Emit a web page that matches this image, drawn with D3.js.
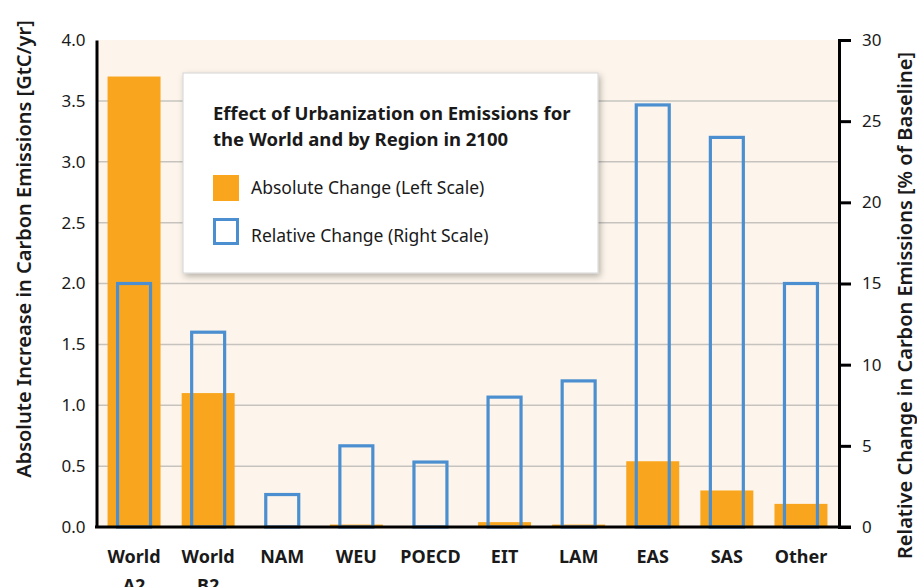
<!DOCTYPE html>
<meta charset="utf-8">
<style>
  body { margin: 0; background: white; }
  svg { display: block; }
  text { font-family: "Noto Sans", "Open Sans", sans-serif; fill: #1a1a1a; }
  .tick text { font-size: 17px; }
  .cat { font-size: 18px; font-weight: bold; }
  .axtitle { font-size: 20px; font-weight: 600; }
</style>
<body>
<div id="chart"></div>
<script src="https://cdn.jsdelivr.net/npm/d3@7/dist/d3.min.js"></script>
<script>
  // data
  var categories = ["World A2", "World B2", "NAM", "WEU", "POECD", "EIT", "LAM", "EAS", "SAS", "Other"];
  var absChange = [3.7, 1.1, 0, 0.02, 0, 0.04, 0.02, 0.54, 0.3, 0.19];   // GtC/yr, left scale
  var relChange = [15, 12, 2, 5, 4, 8, 9, 26, 24, 15];                  // % of baseline, right scale
  var leftTicks = [0, 0.5, 1, 1.5, 2, 2.5, 3, 3.5, 4];
  var rightTicks = [0, 5, 10, 15, 20, 25, 30];

  var W = 917, H = 587;
  var x0 = 97, x1 = 838, yTop = 40, yBot = 527;

  var svg = d3.select("#chart").append("svg")
      .attr("width", W)
      .attr("height", H);

  var x = d3.scaleBand().domain(categories).range([x0, x1]);
  var yL = d3.scaleLinear().domain([0, 4]).range([yBot, yTop]);
  var yR = d3.scaleLinear().domain([0, 30]).range([yBot, yTop]);

  var defs = svg.append("defs");
  var f = defs.append("filter").attr("id", "shadow")
      .attr("x", "-10%").attr("y", "-10%").attr("width", "125%").attr("height", "130%");
  f.append("feDropShadow").attr("dx", 2).attr("dy", 3).attr("stdDeviation", 3)
      .attr("flood-color", "#000").attr("flood-opacity", 0.28);

  // plot background
  svg.append("rect")
      .attr("x", x0).attr("y", yTop)
      .attr("width", x1 - x0).attr("height", yBot - yTop + 2)
      .attr("fill", "#fdf5eb");

  // gridlines
  svg.append("g").selectAll("line")
      .data(leftTicks.filter(function(d){ return d > 0 && d < 4; }))
      .enter().append("line")
      .attr("x1", x0).attr("x2", x1)
      .attr("y1", function(d){ return yL(d); })
      .attr("y2", function(d){ return yL(d); })
      .attr("stroke", "#c6c3bf").attr("stroke-width", 1.5);

  // absolute change bars (orange)
  var bw = x.bandwidth() * 0.715;
  svg.append("g").selectAll("rect")
      .data(categories)
      .enter().append("rect")
      .attr("x", function(d){ return x(d) + (x.bandwidth() - bw) / 2; })
      .attr("y", function(d, i){ return yL(absChange[i]); })
      .attr("width", bw)
      .attr("height", function(d, i){ return yBot - yL(absChange[i]); })
      .attr("fill", "#f9a61e");

  // relative change bars (blue outline)
  var ow = x.bandwidth() * 0.445;
  svg.append("g").selectAll("rect")
      .data(categories)
      .enter().append("rect")
      .attr("x", function(d){ return x(d) + (x.bandwidth() - ow) / 2; })
      .attr("y", function(d, i){ return yR(relChange[i]); })
      .attr("width", ow)
      .attr("height", function(d, i){ return yBot - yR(relChange[i]); })
      .attr("fill", "none")
      .attr("stroke", "#4b8fd1")
      .attr("stroke-width", 3.2);

  // left axis
  var gl = svg.append("g")
      .attr("transform", "translate(" + (x0 - 0.5) + ",0)")
      .call(d3.axisLeft(yL).tickValues(leftTicks).tickFormat(d3.format(".1f")).tickSize(0).tickPadding(11));
  gl.select(".domain").attr("stroke", "#000").attr("stroke-width", 3);
  gl.selectAll(".tick text").attr("fill", "#1a1a1a");

  // right axis
  var gr = svg.append("g")
      .attr("transform", "translate(" + (x1 + 1) + ",0)")
      .call(d3.axisRight(yR).tickValues(rightTicks).tickSize(12).tickPadding(11));
  gr.select(".domain").attr("stroke", "#000").attr("stroke-width", 3);
  gr.selectAll(".tick line").attr("stroke", "#000").attr("stroke-width", 3);
  gr.selectAll(".tick text").attr("fill", "#1a1a1a");

  // baseline
  svg.append("line")
      .attr("x1", x0 - 2).attr("x2", x1 + 13)
      .attr("y1", yBot).attr("y2", yBot)
      .attr("stroke", "#000").attr("stroke-width", 3);

  // category labels
  var cat = svg.append("g").selectAll("text")
      .data(categories)
      .enter().append("text")
      .attr("class", "cat")
      .attr("text-anchor", "middle")
      .attr("x", function(d){ return x(d) + x.bandwidth() / 2; })
      .attr("y", 563);
  cat.each(function(d){
    var parts = d.split(" ");
    var t = d3.select(this);
    parts.forEach(function(p, i){
      t.append("tspan")
        .attr("x", x(d) + x.bandwidth() / 2)
        .attr("dy", i == 0 ? 0 : 29)
        .text(p);
    });
  });

  // axis titles
  svg.append("text")
      .attr("class", "axtitle")
      .attr("text-anchor", "middle")
      .attr("transform", "translate(31," + ((18 + 480) / 2) + ") rotate(-90)")
      .text("Absolute Increase in Carbon Emissions [GtC/yr]");

  svg.append("text")
      .attr("class", "axtitle")
      .attr("text-anchor", "middle")
      .attr("transform", "translate(912," + ((36 + 575) / 2) + ") rotate(-90)")
      .text("Relative Change in Carbon Emissions [% of Baseline]");

  // legend box
  var lg = svg.append("g");
  lg.append("rect")
      .attr("x", 183).attr("y", 73)
      .attr("width", 415).attr("height", 200)
      .attr("fill", "white")
      .attr("stroke", "#d4d4d4").attr("stroke-width", 1)
      .attr("filter", "url(#shadow)");

  lg.append("text")
      .attr("x", 213).attr("y", 120)
      .style("font-size", "18.5px").style("font-weight", "bold")
      .text("Effect of Urbanization on Emissions for");
  lg.append("text")
      .attr("x", 213).attr("y", 146)
      .style("font-size", "18.5px").style("font-weight", "bold")
      .text("the World and by Region in 2100");

  lg.append("rect")
      .attr("x", 213).attr("y", 175)
      .attr("width", 26).attr("height", 26)
      .attr("fill", "#f9a61e");
  lg.append("text")
      .attr("x", 251).attr("y", 194)
      .style("font-size", "17.5px")
      .text("Absolute Change (Left Scale)");

  lg.append("rect")
      .attr("x", 214.5).attr("y", 219.5)
      .attr("width", 23).attr("height", 24)
      .attr("fill", "white")
      .attr("stroke", "#4b8fd1").attr("stroke-width", 3);
  lg.append("text")
      .attr("x", 251).attr("y", 242)
      .style("font-size", "17.5px")
      .text("Relative Change (Right Scale)");
</script>
</body>
